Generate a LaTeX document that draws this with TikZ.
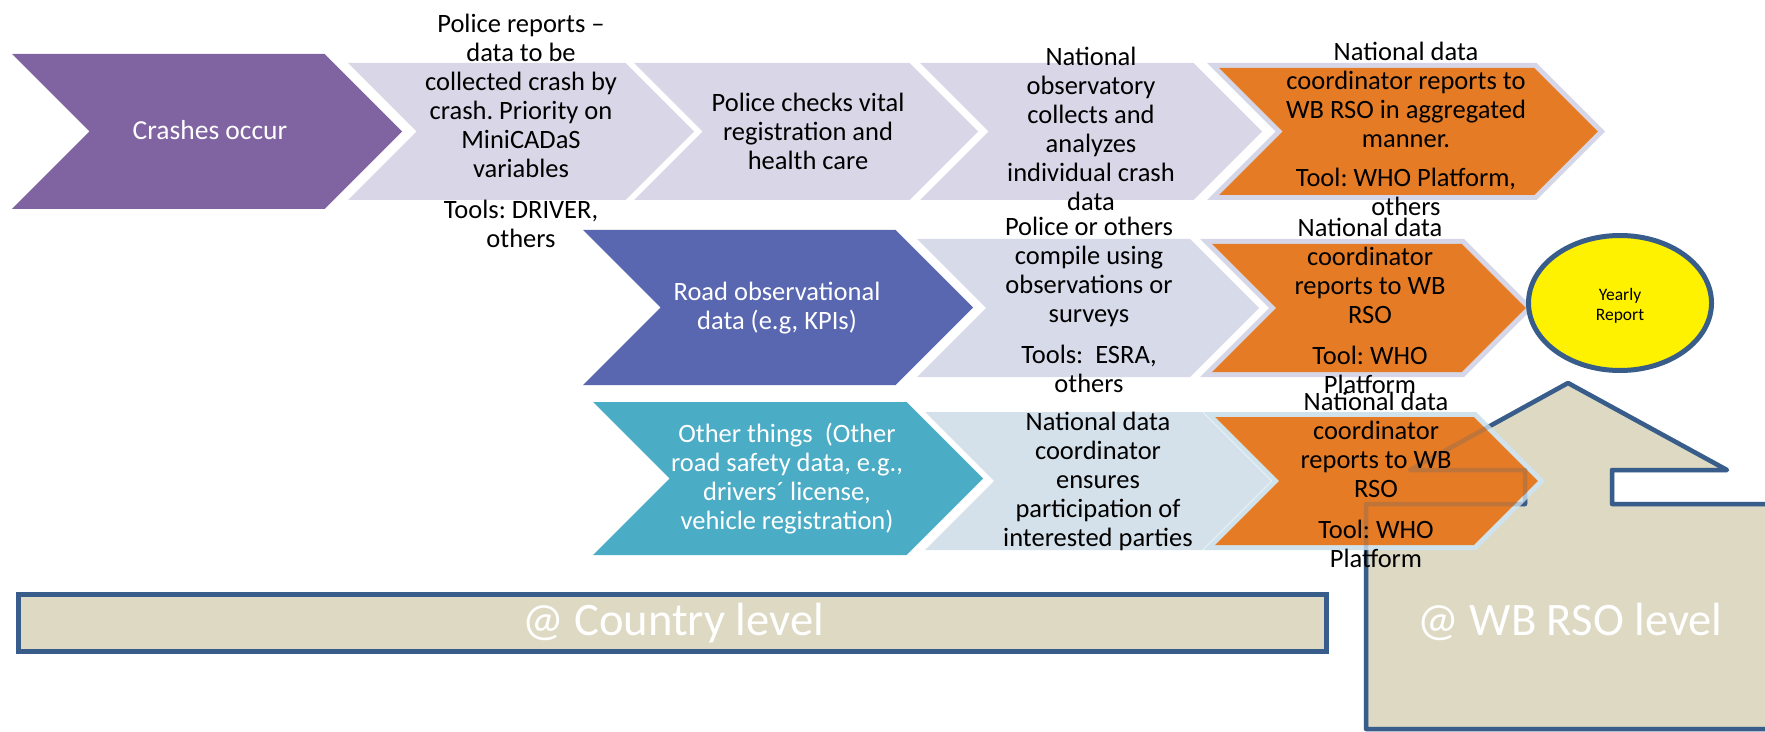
\documentclass[tikz,border=0pt]{standalone}
\usepackage{fontspec}
\setmainfont{Carlito}
\usetikzlibrary{shapes.geometric}
\definecolor{cpurple}{RGB}{128,100,162}
\definecolor{clav}{RGB}{217,215,231}
\definecolor{cblue}{RGB}{89,103,177}
\definecolor{clav2}{RGB}{214,218,233}
\definecolor{cteal}{RGB}{75,172,198}
\definecolor{clblue}{RGB}{213,225,234}
\definecolor{corange}{RGB}{229,123,36}
\definecolor{cpale}{RGB}{214,214,233}
\definecolor{cpale3}{RGB}{208,226,235}
\definecolor{cbeige}{RGB}{221,217,195}
\definecolor{cnavy}{RGB}{56,93,138}
\newcommand\fs{\rule{0pt}{10pt}}
\tikzset{
  chevp/.style n args={4}{insert path={
    ({#1},{(#2)-(#4)/2}) -- ({(#3)-(#4)/2},{(#2)-(#4)/2}) -- ({#3},{#2}) --
    ({(#3)-(#4)/2},{(#2)+(#4)/2}) -- ({#1},{(#2)+(#4)/2}) -- ({(#1)+(#4)/2},{#2}) -- cycle}},
  housep/.style={insert path={(1366,729) -- (1366,504) -- (1525,504) -- (1525,470) -- (1410,470) -- (1568,383) -- (1727,470) -- (1612,470) -- (1612,504) -- (1772,504) -- (1772,729) -- cycle}},
  lbl/.style={align=center, inner sep=0pt, anchor=north, text=black,
    font=\fontsize{13.25}{14.5}\selectfont},
  wlbl/.style={lbl, text=white},
  level/.style={anchor=base, inner sep=0pt, text=white, font=\fontsize{23.3}{28}\selectfont},
  navyline/.style={draw=cnavy, line width=2.5pt, fill=cbeige},
}
\begin{document}
\frenchspacing
\begin{tikzpicture}[x=0.5pt,y=-0.5pt]
\useasboundingbox (0,0) rectangle (1765,732);
% row 1
\path[fill=cpurple, chevp={12}{131.5}{402}{155}];
\path[fill=clav, chevp={348}{131.5}{694}{137}];
\path[fill=clav, chevp={634}{131.5}{978}{137}];
\path[fill=clav, chevp={920}{131.5}{1262}{137}];
\path[fill=cpale, even odd rule, chevp={1207}{131.5}{1605}{137}, chevp={1219.07}{131.5}{1597.93}{127}];
\path[fill=corange, chevp={1219.07}{131.5}{1597.93}{127}];
% row 2
\path[fill=cblue, chevp={583}{307.5}{973}{155}];
\path[fill=clav2, chevp={917}{308}{1259}{138}];
\path[fill=cpale, even odd rule, chevp={1200}{308}{1533}{138}, chevp={1212.07}{308}{1525.93}{128}];
\path[fill=corange, chevp={1212.07}{308}{1525.93}{128}];
% yearly report
\node[ellipse, draw=cnavy, line width=2.5pt, fill=yellow, minimum width=91.5pt, minimum height=67.5pt, inner sep=0pt] (yr) at (1620,303) {};
\node[align=center, inner sep=0pt, anchor=north, font=\fontsize{8.75}{10}\selectfont] (yrt) at (1620,286) {\rule{0pt}{7pt}Yearly\\Report};
% house (WB RSO level)
\draw[navyline, line width=2.25pt, line join=round, housep];
% row 3
\path[fill=cteal, chevp={593}{478.5}{983}{153}];
\path[fill=clblue, chevp={925}{481}{1271}{138}];
\path[fill=cpale3, even odd rule, chevp={1203}{481}{1545}{138}, chevp={1215.07}{481}{1537.93}{128}];
\path[fill=corange, chevp={1215.07}{481}{1537.93}{128}];
% house outline showing faintly through the orange step
\draw[cnavy, line width=2.25pt, line join=round, draw opacity=0.22, housep];
% country box
\draw[navyline] (18.5,594.5) rectangle (1326.5,651.5);
\node[level] (cl) at (673,635) {@ Country level};
\node[level] (wl) at (1570,635) {@ WB RSO level};
% texts
\node[wlbl, anchor=base, font=\fontsize{13.75}{15}\selectfont] (t1) at (210,140) {Crashes occur};
\node[lbl] (t2) at (521,11.7) {\fs Police reports –\\data to be\\collected crash by\\crash. Priority on\\MiniCADaS\\variables\\[6pt]Tools: DRIVER,\\others};
\node[lbl] (t3) at (808,91) {\fs Police checks vital\\registration and\\health care};
\node[lbl] (t4) at (1091,45) {\fs National\\observatory\\collects and\\analyzes\\individual crash\\data};
\node[lbl] (t5) at (1406,40) {\fs National data\\coordinator reports to\\WB RSO in aggregated\\manner.\\[5pt]Tool: WHO Platform,\\others};
\node[wlbl] (t6) at (777,280) {\fs Road observational\\data (e.g, KPIs)};
\node[lbl] (t7) at (1089,215) {\fs Police or others\\compile using\\observations or\\surveys\\[6pt]Tools:~ ESRA,\\others};
\node[lbl] (t8) at (1370,216) {\fs National data\\coordinator\\reports to WB\\RSO\\[6pt]Tool: WHO\\Platform};
\node[wlbl] (t9) at (787,421.7) {\fs Other things~ (Other\\road safety data, e.g.,\\drivers´ license,\\vehicle registration)};
\node[lbl] (t10) at (1098,410) {\fs National data\\coordinator\\ensures\\participation of\\interested parties};
\node[lbl] (t11) at (1376,390) {\fs National data\\coordinator\\reports to WB\\RSO\\[6pt]Tool: WHO\\Platform};
\end{tikzpicture}
\end{document}
